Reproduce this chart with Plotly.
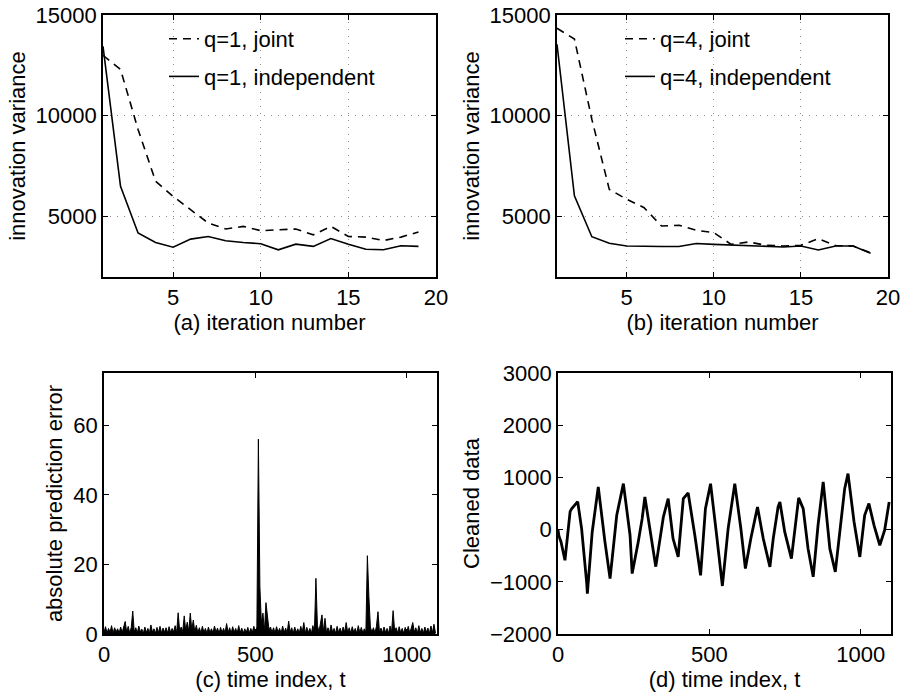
import plotly.graph_objects as go

# iteration number for the two top panels
iters = list(range(1, 20))

# (a) q=1
q1_joint = [13000, 12300, 9320, 6750, 6000, 5340, 4680, 4380, 4510, 4300,
            4340, 4380, 4090, 4510, 4010, 3980, 3810, 3980, 4230]
q1_indep = [13450, 6500, 4180, 3710, 3480, 3880, 4010, 3800, 3710, 3650,
            3350, 3630, 3520, 3910, 3630, 3380, 3350, 3550, 3520]

# (b) q=4
q4_joint = [14340, 13810, 9830, 6350, 5860, 5440, 4530, 4570, 4320, 4200,
            3620, 3740, 3570, 3540, 3570, 3900, 3560, 3540, 3200]
q4_indep = [13550, 6030, 4000, 3670, 3540, 3510, 3510, 3510, 3660, 3620,
            3590, 3540, 3540, 3490, 3540, 3340, 3540, 3540, 3180]

# (c) absolute prediction error, read every 5 samples
err_t = list(range(0, 1100, 5))
err_v = [0.4, 2.1, 0.3, 1.6, 0.5, 2.4, 0.2, 1.8, 0.6, 1.5, 0.3, 2.0, 0.4, 1.7, 3.6, 0.5, 2.2, 0.3, 1.9, 6.6,
         0.5, 1.8, 0.3, 2.3, 0.6, 1.4, 0.2, 2.0, 0.4, 1.6, 0.3, 2.6, 0.5, 1.5, 0.2, 1.9, 0.4, 2.2, 0.3, 1.7,
         0.5, 1.8, 0.3, 2.1, 0.4, 1.6, 0.6, 2.4, 0.3, 6.1, 0.8, 2.0, 0.6, 5.2, 1.0, 3.4, 0.7, 6.0, 1.2, 4.0,
         0.6, 2.5, 0.4, 1.8, 0.3, 2.2, 0.5, 1.6, 0.2, 2.0, 0.4, 1.5, 0.3, 2.3, 0.5, 1.7, 0.2, 1.9, 0.4, 1.6,
         0.3, 3.0, 0.4, 1.8, 0.2, 2.1, 0.5, 1.6, 0.3, 2.4, 0.4, 1.7, 0.2, 1.5, 0.4, 1.9, 0.3, 1.6, 0.5, 2.2,
         0.4, 2.0, 56.0, 13.5, 3.0, 6.0, 0.8, 9.0, 5.5, 1.2, 2.0, 0.4, 1.8, 0.3, 2.1, 0.5, 1.6, 0.2, 2.3, 0.4,
         1.7, 0.3, 3.7, 0.5, 1.8, 0.2, 2.0, 0.4, 1.5, 0.3, 2.2, 0.5, 3.3, 0.3, 1.9, 0.4, 1.6, 0.2, 2.4, 0.5,
         16.0, 2.5, 0.6, 3.5, 5.5, 0.7, 4.5, 0.4, 1.8, 0.3, 2.6, 0.5, 1.6, 0.2, 2.2, 0.4, 1.7, 0.3, 2.0, 0.5,
         3.3, 0.4, 1.8, 0.3, 2.1, 0.5, 1.6, 0.2, 2.4, 0.4, 1.9, 0.3, 1.5, 0.4, 22.5, 10.8, 2.0, 0.5, 1.8, 0.3,
         2.2, 6.4, 0.5, 1.7, 0.3, 2.0, 0.4, 1.6, 0.2, 2.3, 0.5, 6.7, 1.0, 1.8, 0.3, 2.1, 0.4, 1.6, 0.2, 1.9,
         0.4, 2.2, 0.3, 1.7, 3.3, 0.5, 1.8, 0.2, 2.4, 0.4, 1.6, 0.3, 2.0, 0.5, 1.7, 0.2, 2.3, 0.4, 2.8, 0.3]

# (d) cleaned data
clean_t = [0, 3, 10, 23, 40, 45, 65, 78, 95, 97, 113, 133, 155, 172, 194, 216, 238, 245, 265, 278,
           287, 304, 323, 348, 364, 380, 397, 414, 430, 452, 471, 487, 504, 524, 543, 562, 584, 604,
           619, 637, 659, 678, 700, 711, 727, 733, 749, 771, 788, 795, 810, 826, 843, 859, 876, 898,
           916, 936, 947, 958, 978, 997, 1013, 1027, 1044, 1063, 1079, 1094]
clean_v = [0, -120, -236, -587, 345, 400, 536, 20, -1034, -1225, -45, 817, -230, -940, 275, 880, -108, -843, -236, 210,
           626, -40, -710, 243, 594, -172, -523, 594, 702, -108, -875, 402, 880, -108, -1080, 20, 880, 20,
           -745, -172, 434, -172, -715, -172, 434, 530, -45, -555, 275, 608, 400, -365, -905, 83, 913, -365,
           -810, 275, 785, 1072, 147, -523, 275, 498, 83, -300, -13, 530]

W, H = 904, 695
FONT = "Liberation Sans, Arial, sans-serif"
FS = 22

def dom_x(a, b):  # pixel edges -> paper fractions
    return [a / W, b / W]

def dom_y(top, bottom):
    return [1 - bottom / H, 1 - top / H]

fig = go.Figure()

dash = "8px,6px"
fig.add_trace(go.Scatter(x=iters, y=q1_joint, mode="lines", name="q=1, joint", legendgroup="a1",
                         line=dict(color="black", width=1.6, dash=dash), xaxis="x", yaxis="y", legend="legend"))
fig.add_trace(go.Scatter(x=iters, y=q1_indep, mode="lines", name="q=1, independent", legendgroup="a2",
                         line=dict(color="black", width=1.6), xaxis="x", yaxis="y", legend="legend"))
fig.add_trace(go.Scatter(x=iters, y=q4_joint, mode="lines", name="q=4, joint", legendgroup="b1",
                         line=dict(color="black", width=1.6, dash=dash), xaxis="x2", yaxis="y2", legend="legend2"))
fig.add_trace(go.Scatter(x=iters, y=q4_indep, mode="lines", name="q=4, independent", legendgroup="b2",
                         line=dict(color="black", width=1.6), xaxis="x2", yaxis="y2", legend="legend2"))
fig.add_trace(go.Scatter(x=err_t, y=err_v, mode="lines", showlegend=False, fill="tozeroy", fillcolor="black",
                         line=dict(color="black", width=1.0), xaxis="x3", yaxis="y3"))
fig.add_trace(go.Scatter(x=clean_t, y=clean_v, mode="lines", showlegend=False,
                         line=dict(color="black", width=2.8), xaxis="x4", yaxis="y4"))

def axis(domain, rng, tickvals, title, grid, anchor, standoff):
    return dict(domain=domain, range=rng, tickvals=tickvals, tickformat="d", showline=True,
                linecolor="black", linewidth=1.6, mirror="allticks", ticks="inside", ticklen=5,
                tickcolor="black", zeroline=False, showgrid=grid, gridcolor="#8a8a8a",
                griddash="1px,6px", gridwidth=1, automargin=False, anchor=anchor,
                ticklabeloverflow="allow",
                tickfont=dict(size=FS, color="black", family=FONT),
                title=dict(text=title, font=dict(size=FS, color="black", family=FONT), standoff=standoff))

layout = dict(
    width=W, height=H, margin=dict(l=0, r=0, t=0, b=0),
    paper_bgcolor="white", plot_bgcolor="white",
    xaxis=axis(dom_x(103, 436), [1, 20], [5, 10, 15, 20], "(a) iteration number", True, "y", 0),
    yaxis=axis(dom_y(15, 277), [2000, 15000], [5000, 10000, 15000], "innovation variance", True, "x", 4),
    xaxis2=axis(dom_x(557, 888), [1, 20], [5, 10, 15, 20], "(b) iteration number", True, "y2", 0),
    yaxis2=axis(dom_y(15, 277), [2000, 15000], [5000, 10000, 15000], "innovation variance", True, "x2", 4),
    xaxis3=axis(dom_x(104, 437), [0, 1100], [0, 500, 1000], "(c) time index, t", False, "y3", 2),
    yaxis3=axis(dom_y(373, 634), [0, 75], [0, 20, 40, 60], "absolute prediction error", False, "x3", 5),
    xaxis4=axis(dom_x(558, 891), [0, 1100], [0, 500, 1000], "(d) time index, t", False, "y4", 2),
    yaxis4=axis(dom_y(373, 634), [-2000, 3000], [-2000, -1000, 0, 1000, 2000, 3000], "Cleaned data", False, "x4", 4),
    legend=dict(x=164 / W, y=1 - 18 / H, xanchor="left", yanchor="top", bgcolor="rgba(0,0,0,0)",
                font=dict(size=FS, color="black", family=FONT), traceorder="grouped", tracegroupgap=6),
    legend2=dict(x=620 / W, y=1 - 18 / H, xanchor="left", yanchor="top", bgcolor="rgba(0,0,0,0)",
                 font=dict(size=FS, color="black", family=FONT), traceorder="grouped", tracegroupgap=6),
)
fig.update_layout(layout)

# drop the default 8px page margin so the figure fills the window exactly
fig.write_html("out.html", config={"displayModeBar": False},
               post_script="document.body.style.margin = '0';")
